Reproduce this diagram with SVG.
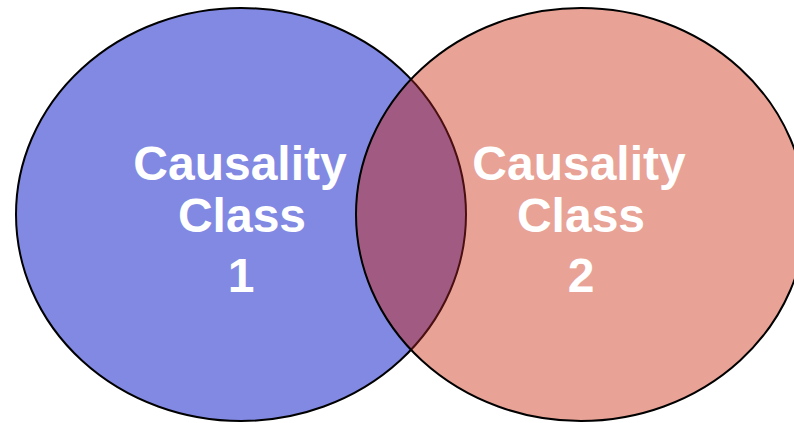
<svg xmlns="http://www.w3.org/2000/svg" width="794" height="423" viewBox="0 0 794 423">
<style>
.lbl{font-family:"Liberation Sans",Arial,sans-serif;font-weight:bold;font-size:48px;fill:#ffffff;text-anchor:middle}
.edge{fill:none;stroke:#000;stroke-width:2}
</style>
<defs>
<clipPath id="clipLeft"><ellipse cx="241" cy="214.5" rx="225" ry="206.5"/></clipPath>
<clipPath id="clipRight"><ellipse cx="581" cy="214.5" rx="225" ry="206.5"/></clipPath>
</defs>
<rect width="794" height="423" fill="#ffffff"/>
<g id="class1">
<ellipse cx="241" cy="214.5" rx="225" ry="206.5" fill="#8289E3" class="edge" style="fill:#8289E3"/>
</g>
<g id="class2">
<ellipse cx="581" cy="214.5" rx="225" ry="206.5" fill="#E8A296"/>
<ellipse cx="581" cy="214.5" rx="225" ry="206.5" fill="#A15B82" clip-path="url(#clipLeft)"/>
<ellipse cx="241" cy="214.5" rx="225" ry="206.5" fill="none" stroke="#4A0F10" stroke-width="2" clip-path="url(#clipRight)"/>
<ellipse cx="581" cy="214.5" rx="225" ry="206.5" class="edge"/>
</g>
<g id="label1">
<text class="lbl" x="240" y="180">Causality</text>
<text class="lbl" x="242" y="232">Class</text>
<text class="lbl" x="241" y="292">1</text>
</g>
<g id="label2">
<text class="lbl" x="579" y="180">Causality</text>
<text class="lbl" x="581" y="232">Class</text>
<text class="lbl" x="581" y="292">2</text>
</g>
</svg>
